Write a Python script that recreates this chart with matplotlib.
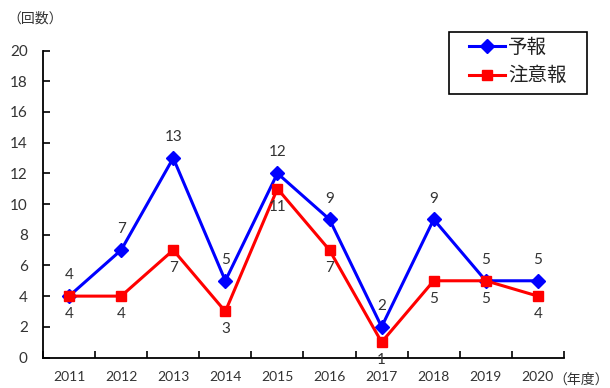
import numpy as np
import matplotlib.pyplot as plt
from matplotlib.patches import Rectangle

plt.rcParams['font.family'] = ['Lato', 'Noto Sans CJK JP', 'DejaVu Sans']

years = ['2011', '2012', '2013', '2014', '2015', '2016', '2017', '2018', '2019', '2020']
yohou = [4, 7, 13, 5, 12, 9, 2, 9, 5, 5]
chuuihou = [4, 4, 7, 3, 11, 7, 1, 5, 5, 4]

txt = '#333333'
fig = plt.figure(figsize=(6.1, 3.88), dpi=100)
ax = fig.add_axes([0.0705, 0.0786, 0.854, 0.791])

x = np.arange(len(years))
ax.plot(x, yohou, color='#0000ff', lw=2.2, marker='D', ms=7, label='予報')
ax.plot(x, chuuihou, color='#ff0000', lw=2.2, marker='s', ms=7, label='注意報')

for i in range(len(years)):
    ax.annotate(str(yohou[i]), (x[i], yohou[i]), xytext=(0, 10), textcoords='offset points',
                ha='center', va='bottom', fontsize=11, color=txt)
    ax.annotate(str(chuuihou[i]), (x[i], chuuihou[i]), xytext=(0, -7.8), textcoords='offset points',
                ha='center', va='top', fontsize=11, color=txt)

ax.set_xlim(-0.5, len(years) - 0.5)
ax.set_ylim(0, 20)
ax.set_yticks(np.arange(0, 21, 2))
ax.set_xticks(x)
ax.set_xticklabels(years)
ax.set_xticks(np.arange(-0.5, len(years)), minor=True)
ax.tick_params(axis='x', which='major', length=0, pad=9.7, labelsize=10, labelcolor=txt)
ax.tick_params(axis='x', which='minor', direction='in', length=5, width=1.2)
ax.tick_params(axis='y', direction='in', length=5, width=1.2, labelsize=11, pad=11, labelcolor=txt)
for s in ['top', 'right']:
    ax.spines[s].set_visible(False)
for s in ['left', 'bottom']:
    ax.spines[s].set_linewidth(1.3)

fig.text(0.012, 0.953, '（回数）', fontsize=10, va='center', ha='left', color=txt)
fig.text(0.998, 0.024, '（年度）', fontsize=10, va='center', ha='right', color=txt)

# legend box drawn separately so the side padding can be wider than the top/bottom
fig.patches.append(Rectangle((0.736, 0.758), 0.226, 0.160, transform=fig.transFigure,
                             fill=False, edgecolor='black', lw=1.2))
leg = ax.legend(loc='upper left', bbox_to_anchor=(0.769, 0.902), bbox_transform=fig.transFigure,
                borderaxespad=0, borderpad=0, fontsize=14, frameon=False,
                handlelength=1.85, handletextpad=0.15, labelspacing=0.5)
for t in leg.get_texts():
    t.set_color('#222222')

fig.savefig('out.png', dpi=100, facecolor='w')
